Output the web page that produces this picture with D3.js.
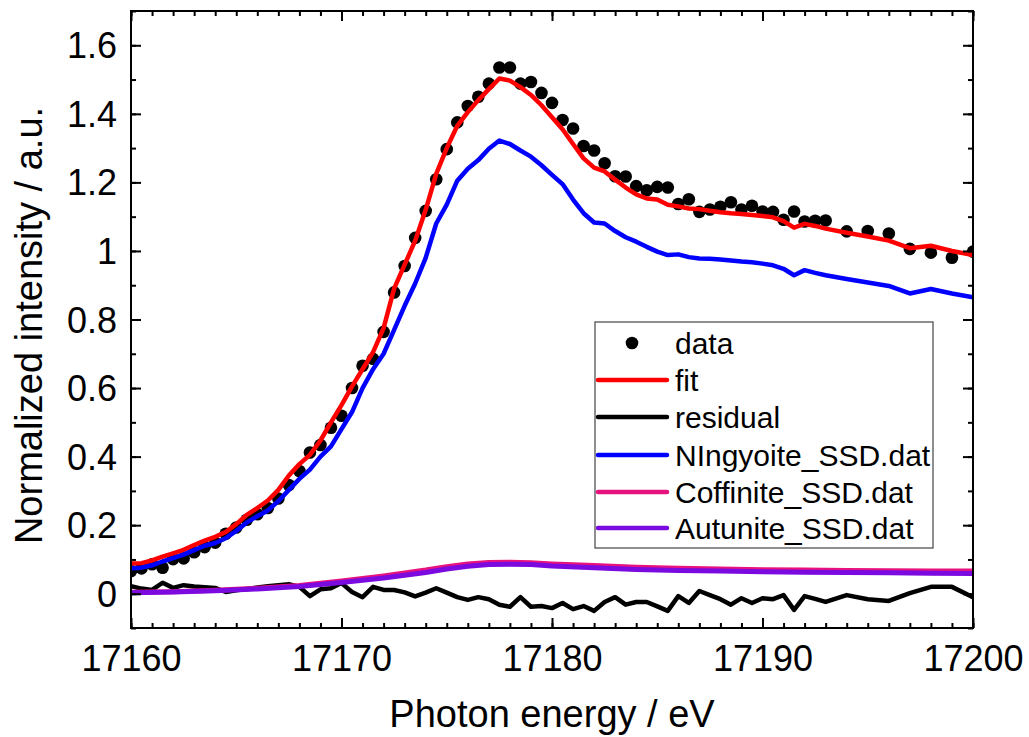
<!DOCTYPE html>
<html><head><meta charset="utf-8">
<script src="https://cdn.jsdelivr.net/npm/d3@7/dist/d3.min.js"></script>
<style>body{margin:0;background:#fff}svg{display:block;font-family:"Liberation Sans",Arial,sans-serif}</style>
</head><body><svg id="c" width="1029" height="737"></svg>
<script>
const energy = [17160,17160.5,17161,17161.5,17162,17162.5,17163,17163.5,17164,17164.5,17165,17165.5,17166,17166.5,17167,17167.5,17168,17168.5,17169,17169.5,17170,17170.5,17171,17171.5,17172,17172.5,17173,17173.5,17174,17174.5,17175,17175.5,17176,17176.5,17177,17177.5,17178,17178.5,17179,17179.5,17180,17180.5,17181,17181.5,17182,17182.5,17183,17183.5,17184,17184.5,17185,17185.5,17186,17186.5,17187,17187.5,17188,17188.5,17189,17189.5,17190,17190.5,17191,17191.5,17192,17192.5,17193,17194,17195,17196,17197,17198,17199,17200];
const dataVals = [0.066,0.074,0.086,0.076,0.101,0.103,0.121,0.136,0.149,0.175,0.193,0.216,0.232,0.250,0.278,0.317,0.358,0.412,0.434,0.484,0.519,0.600,0.665,0.685,0.764,0.879,0.956,1.038,1.117,1.209,1.297,1.375,1.423,1.450,1.488,1.535,1.535,1.488,1.493,1.461,1.432,1.382,1.357,1.306,1.293,1.256,1.218,1.217,1.189,1.177,1.187,1.185,1.137,1.151,1.114,1.121,1.129,1.142,1.121,1.132,1.115,1.114,1.091,1.115,1.086,1.088,1.089,1.057,1.058,1.051,1.006,0.995,0.980,0.998];
const fitVals = [0.088,0.089,0.097,0.108,0.118,0.128,0.142,0.155,0.166,0.180,0.203,0.230,0.250,0.272,0.303,0.345,0.378,0.405,0.447,0.500,0.550,0.605,0.655,0.705,0.775,0.890,0.960,1.030,1.120,1.225,1.300,1.365,1.405,1.440,1.472,1.503,1.497,1.478,1.455,1.425,1.390,1.355,1.312,1.270,1.243,1.232,1.208,1.185,1.165,1.153,1.150,1.135,1.130,1.124,1.122,1.117,1.113,1.110,1.108,1.105,1.102,1.098,1.087,1.068,1.079,1.073,1.065,1.053,1.042,1.030,1.008,1.015,1.000,0.988];
const residualVals = [0.022,0.015,0.011,0.032,0.017,0.025,0.021,0.019,0.017,0.005,0.010,0.014,0.018,0.022,0.025,0.028,0.020,-0.007,0.013,0.016,0.031,0.005,-0.010,0.020,0.011,0.011,0.004,-0.008,0.003,0.016,0.003,-0.010,-0.018,-0.010,-0.016,-0.032,-0.038,-0.010,-0.038,-0.036,-0.042,-0.027,-0.045,-0.036,-0.050,-0.024,-0.010,-0.032,-0.024,-0.024,-0.037,-0.050,-0.007,-0.027,0.008,-0.004,-0.016,-0.032,-0.013,-0.027,-0.013,-0.016,-0.004,-0.047,-0.007,-0.015,-0.024,-0.004,-0.016,-0.021,0.002,0.020,0.020,-0.010];
const ningyoiteVals = [0.074,0.076,0.083,0.094,0.104,0.114,0.127,0.140,0.148,0.162,0.183,0.208,0.226,0.243,0.270,0.303,0.335,0.362,0.400,0.430,0.480,0.530,0.600,0.655,0.700,0.770,0.840,0.905,0.980,1.080,1.135,1.205,1.240,1.265,1.298,1.322,1.312,1.293,1.275,1.250,1.222,1.195,1.150,1.110,1.083,1.080,1.058,1.040,1.027,1.012,0.998,0.988,0.990,0.982,0.978,0.977,0.975,0.972,0.969,0.967,0.963,0.958,0.948,0.929,0.944,0.936,0.929,0.918,0.908,0.898,0.876,0.889,0.876,0.865];
const compEnergy = [17160,17162,17164,17166,17168,17170,17172,17174,17175,17176,17177,17178,17179,17180,17182,17184,17186,17188,17190,17192,17194,17196,17198,17200];
const coffiniteVals = [0.004,0.006,0.010,0.016,0.024,0.037,0.052,0.069,0.079,0.087,0.091,0.092,0.090,0.087,0.082,0.077,0.074,0.072,0.070,0.069,0.068,0.067,0.066,0.066];
const autuniteVals = [0.003,0.005,0.009,0.014,0.021,0.033,0.046,0.062,0.072,0.080,0.085,0.086,0.085,0.081,0.076,0.071,0.068,0.066,0.064,0.063,0.062,0.061,0.060,0.059];
const xTicks = [17160,17170,17180,17190,17200];
const yTicks = [0,0.2,0.4,0.6,0.8,1,1.2,1.4,1.6];
const yTickLabels = ["0","0.2","0.4","0.6","0.8","1","1.2","1.4","1.6"];
const legendNames = ["data","fit","residual","NIngyoite_SSD.dat","Coffinite_SSD.dat","Autunite_SSD.dat"];
const legendColors = ["#000000","#ff0000","#000000","#0000ff","#e8127f","#7a0adf"];

const L=131, R=973, T=11, B=628;
const svg = d3.select("#c");
const x = d3.scaleLinear().domain([17160,17200]).range([L,R]);
const y = d3.scaleLinear().domain([-0.1,1.7]).range([B,T]);

svg.append("defs").append("clipPath").attr("id","clip").append("rect")
  .attr("x",L).attr("y",T).attr("width",R-L).attr("height",B-T);
const plot = svg.append("g").attr("clip-path","url(#clip)");

plot.selectAll("circle.d").data(energy.map((e,i)=>[e,dataVals[i]])).enter().append("circle")
  .attr("cx",d=>x(d[0])).attr("cy",d=>y(d[1])).attr("r",6.3).attr("fill","#000");

const line = d3.line().x(d=>x(d[0])).y(d=>y(d[1]));
function drawLine(es, vs, color, w){
  plot.append("path").datum(es.map((e,i)=>[e,vs[i]])).attr("d",line)
    .attr("fill","none").attr("stroke",color).attr("stroke-width",w).attr("stroke-linejoin","round");
}
drawLine(energy, fitVals, legendColors[1], 4.5);
drawLine(energy, residualVals, legendColors[2], 4.5);
drawLine(energy, ningyoiteVals, legendColors[3], 4.5);
drawLine(compEnergy, coffiniteVals, legendColors[4], 5);
drawLine(compEnergy, autuniteVals, legendColors[5], 5);

// axes
const fs = 36;
const axB = svg.append("g").attr("transform",`translate(0,${B})`)
  .call(d3.axisBottom(x).tickValues(xTicks).tickSize(-10).tickPadding(17).tickFormat(d3.format("d")));
const axBm = svg.append("g").attr("transform",`translate(0,${B})`)
  .call(d3.axisBottom(x).tickValues(d3.range(17160,17201,1)).tickSize(-5).tickFormat(""));
const axT = svg.append("g").attr("transform",`translate(0,${T})`)
  .call(d3.axisTop(x).tickValues(xTicks).tickSize(-10).tickFormat(""));
const axTm = svg.append("g").attr("transform",`translate(0,${T})`)
  .call(d3.axisTop(x).tickValues(d3.range(17160,17201,1)).tickSize(-5).tickFormat(""));
const axL = svg.append("g").attr("transform",`translate(${L},0)`)
  .call(d3.axisLeft(y).tickValues(yTicks).tickSize(-10).tickPadding(14).tickFormat((d,i)=>yTickLabels[i]));
const axLm = svg.append("g").attr("transform",`translate(${L},0)`)
  .call(d3.axisLeft(y).tickValues(d3.range(-0.1,1.71,0.1)).tickSize(-5).tickFormat(""));
const axR = svg.append("g").attr("transform",`translate(${R},0)`)
  .call(d3.axisRight(y).tickValues(yTicks).tickSize(-10).tickFormat(""));
const axRm = svg.append("g").attr("transform",`translate(${R},0)`)
  .call(d3.axisRight(y).tickValues(d3.range(-0.1,1.71,0.1)).tickSize(-5).tickFormat(""));
[axB,axBm,axT,axTm,axL,axLm,axR,axRm].forEach(a=>{
  a.select(".domain").remove();
  a.selectAll(".tick line").attr("stroke","#000").attr("stroke-width",2);
  a.selectAll(".tick text").attr("font-size",fs).attr("font-family","Liberation Sans, Arial, sans-serif").attr("fill","#000");
});
axB.selectAll(".tick text").attr("dy","0.71em");
axL.selectAll(".tick text").attr("dy","0.35em");
svg.append("rect").attr("x",L).attr("y",T).attr("width",R-L).attr("height",B-T)
  .attr("fill","none").attr("stroke","#000").attr("stroke-width",2);

// titles
svg.append("text").attr("x",(L+R)/2).attr("y",727).attr("text-anchor","middle")
  .attr("font-size",38).text("Photon energy / eV");
svg.append("text").attr("transform",`translate(42,${(T+B)/2+6}) rotate(-90)`).attr("text-anchor","middle")
  .attr("font-size",38).text("Normalized intensity / a.u.");

// legend
const lg = svg.append("g");
lg.append("rect").attr("x",595).attr("y",322).attr("width",338).attr("height",226)
  .attr("fill","#fff").attr("stroke","#444").attr("stroke-width",1.2);
const ly = [343,380,417,455,492,528];
legendNames.forEach((n,i)=>{
  if(i===0){
    lg.append("circle").attr("cx",632).attr("cy",ly[i]).attr("r",6.3).attr("fill","#000");
  } else {
    lg.append("line").attr("x1",598).attr("x2",667).attr("y1",ly[i]).attr("y2",ly[i])
      .attr("stroke",legendColors[i]).attr("stroke-width",4.5).attr("stroke-linecap","round");
  }
  lg.append("text").attr("x",675).attr("y",ly[i]+10.5).attr("font-size",30).text(n);
});
</script></body></html>
